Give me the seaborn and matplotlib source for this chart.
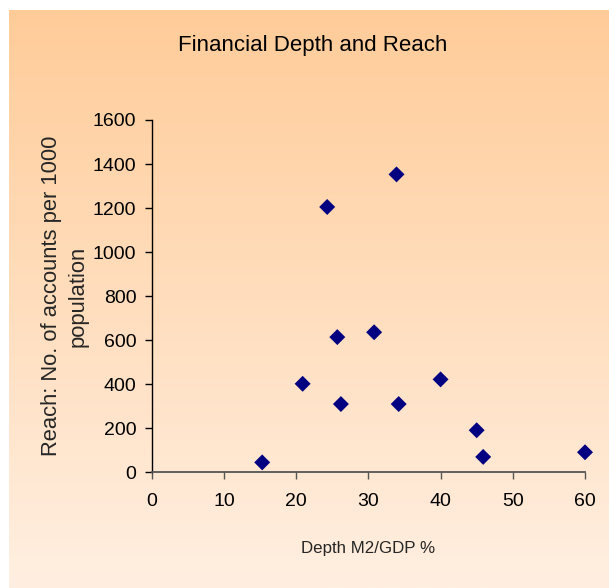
import numpy as np
import pandas as pd
import matplotlib
matplotlib.use("Agg")
import matplotlib.pyplot as plt
from matplotlib import font_manager
import seaborn as sns

# Financial depth (M2/GDP %) vs reach (accounts per 1000 population)
depth = [15.3, 20.9, 24.3, 25.7, 26.2, 30.8, 33.9, 34.2, 40.0, 45.0, 45.9, 60.0]
reach = [45, 402, 1205, 614, 310, 636, 1353, 310, 422, 191, 70, 91]

x_ticks = [0, 10, 20, 30, 40, 50, 60]
y_ticks = [0, 200, 400, 600, 800, 1000, 1200, 1400, 1600]

df = pd.DataFrame({"depth": depth, "reach": reach})

sns.set_theme(style="white")
names = {f.name for f in font_manager.fontManager.ttflist}
family = "Liberation Sans Narrow" if "Liberation Sans Narrow" in names else "Liberation Sans"
plt.rcParams["font.family"] = [family, "DejaVu Sans"]

W, H = 609, 588
fig = plt.figure(figsize=(W / 100, H / 100), dpi=100)
fig.patch.set_facecolor("white")

# peach-to-cream vertical gradient panel
bg = fig.add_axes([9 / W, 0, (W - 9) / W, (H - 10) / H], zorder=0)
top = np.array([255, 204, 153]) / 255
bottom = np.array([255, 239, 225]) / 255
t = np.linspace(0, 1, 256)[:, None]
grad = (top * (1 - t) + bottom * t)[:, None, :]
bg.imshow(grad, aspect="auto", extent=[0, 1, 0, 1])
bg.set_axis_off()

ax = fig.add_axes([151.7 / W, 1 - 472.3 / H, (585 - 151.7) / W, (472.3 - 120) / H], zorder=1)
ax.set_facecolor("none")

sns.scatterplot(data=df, x="depth", y="reach", marker="D", s=66,
                color="#000080", edgecolor="none", ax=ax, clip_on=False)

ax.set_xlim(0, 60)
ax.set_ylim(0, 1600)
ax.set_xticks(x_ticks)
ax.set_yticks(y_ticks)
ax.set_xticklabels([str(v) for v in x_ticks])
ax.set_yticklabels([str(v) for v in y_ticks])

for side in ("top", "right"):
    ax.spines[side].set_visible(False)
ax.spines["left"].set_color("black")
ax.spines["bottom"].set_color("#555555")
ax.spines["left"].set_linewidth(1.0)
ax.spines["bottom"].set_linewidth(1.3)

ax.tick_params(axis="both", which="major", direction="out", length=5, width=1,
               colors="black", labelsize=14, pad=6, bottom=True, left=True)
ax.tick_params(axis="x", pad=10, color="#555555")

ax.set_xlabel("Depth M2/GDP %", fontsize=12.2, labelpad=22)
ax.set_ylabel("Reach: No. of accounts per 1000\npopulation", fontsize=15.8,
              labelpad=3, linespacing=1.35)

fig.text(313 / W, 1 - 45 / H, "Financial Depth and Reach", ha="center", va="center",
         fontsize=16, color="black")

fig.savefig("out.png", dpi=100)
